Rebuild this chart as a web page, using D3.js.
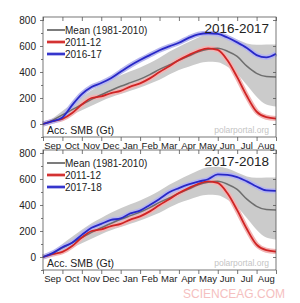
<!DOCTYPE html>
<html>
<head>
<meta charset="utf-8">
<script src="https://cdn.jsdelivr.net/npm/d3@7"></script>
<style>
  body { margin: 0; background: #fff; }
  text { font-family: "Liberation Sans", Arial, sans-serif; }
</style>
</head>
<body>
<div id="chart"></div>
<script>
// month labels, season starts 1 Sep
var months = ["Sep", "Oct", "Nov", "Dec", "Jan", "Feb", "Mar", "Apr", "May", "Jun", "Jul", "Aug"];
// sample positions, in months since 1 Sep
var steps = [0, 0.5, 1, 1.5, 2, 2.5, 3, 3.5, 4, 4.5, 5, 5.5, 6, 6.5, 7, 7.5, 8, 8.5, 9, 9.5, 10, 10.5, 11, 11.5, 12];

// accumulated SMB in Gt
var mean8110 = [0, 30, 70, 110, 150, 190, 225, 258, 290, 318, 345, 380, 420, 455, 490, 522, 555, 575, 582, 560, 520, 445, 390, 365, 362];
var bandHi   = [0, 45, 100, 155, 210, 260, 300, 340, 375, 405, 435, 470, 510, 555, 595, 630, 665, 690, 695, 680, 650, 620, 610, 612, 612];
var bandLo   = [0, 10, 40, 70, 105, 140, 175, 205, 230, 255, 280, 310, 340, 380, 415, 440, 465, 478, 475, 440, 385, 300, 210, 150, 135];
var s2011    = [0, 22, 40, 85, 150, 200, 212, 238, 255, 288, 313, 351, 400, 445, 492, 530, 563, 582, 570, 490, 360, 215, 95, 52, 42];
var s2016    = [0, 22, 50, 145, 230, 285, 315, 352, 402, 450, 492, 530, 567, 597, 625, 662, 690, 698, 693, 665, 628, 585, 530, 512, 540];
var s2017    = [0, 30, 75, 110, 170, 225, 255, 285, 297, 335, 357, 400, 447, 498, 530, 558, 580, 598, 635, 632, 615, 582, 542, 512, 508];

var panels = [
    { title: "2016-2017", label: "2016-17", series: s2016, dy: 0 },
    { title: "2017-2018", label: "2017-18", series: s2017, dy: 133 }
];

var width = 300, height = 303;
var svg = d3.select("#chart").append("svg")
    .attr("width", width)
    .attr("height", height);

var x = d3.scaleLinear().domain([0, 12]).range([43, 276]);
var y = d3.scaleLinear().domain([-100, 823]).range([137, 17]);

var redC = "#d02424", blueC = "#2828c8", meanC = "#6e6e6e";

function pts(vals) {
    return steps.map(function (s, i) { return [s, vals[i]]; });
}

var line = d3.line()
    .x(function (d) { return x(d[0]); })
    .y(function (d) { return y(d[1]); })
    .curve(d3.curveMonotoneX);

var area = d3.area()
    .x(function (d, i) { return x(steps[i]); })
    .y0(function (d, i) { return y(bandLo[i]); })
    .y1(function (d, i) { return y(bandHi[i]); })
    .curve(d3.curveMonotoneX);

panels.forEach(function (p) {
    var g = svg.append("g").attr("transform", "translate(0," + p.dy + ")");

    g.append("path").datum(steps)
        .attr("d", area)
        .attr("fill", "#cbcbcb");

    // lines with light halos
    g.append("path").datum(pts(s2011)).attr("d", line)
        .attr("fill", "none").attr("stroke", "#f2b4b4").attr("stroke-width", 5);
    g.append("path").datum(pts(p.series)).attr("d", line)
        .attr("fill", "none").attr("stroke", "#b6b6ee").attr("stroke-width", 5);
    g.append("path").datum(pts(mean8110)).attr("d", line)
        .attr("fill", "none").attr("stroke", meanC).attr("stroke-width", 1.5);
    g.append("path").datum(pts(s2011)).attr("d", line)
        .attr("fill", "none").attr("stroke", redC).attr("stroke-width", 1.8);
    g.append("path").datum(pts(p.series)).attr("d", line)
        .attr("fill", "none").attr("stroke", blueC).attr("stroke-width", 1.8);

    // frame
    g.append("rect")
        .attr("x", x(0)).attr("y", y(823))
        .attr("width", x(12) - x(0)).attr("height", y(-100) - y(823))
        .attr("fill", "none").attr("stroke", "#555").attr("stroke-width", 0.8);

    // left axis
    var left = g.append("g").attr("transform", "translate(" + x(0) + ",0)")
        .call(d3.axisLeft(y).tickValues([0, 200, 400, 600, 800]).tickSize(3).tickPadding(4));
    g.append("g").attr("transform", "translate(" + x(0) + ",0)")
        .call(d3.axisLeft(y).tickValues([-100, 100, 300, 500, 700]).tickSize(2).tickFormat(""));
    // right axis, inward ticks
    g.append("g").attr("transform", "translate(" + x(12) + ",0)")
        .call(d3.axisLeft(y).tickValues([0, 200, 400, 600, 800]).tickSize(3).tickFormat(""));
    // bottom axis, month boundaries
    var monthTicks = d3.range(0, 13);
    g.append("g").attr("transform", "translate(0," + y(-100) + ")")
        .call(d3.axisBottom(x).tickValues(monthTicks).tickSize(4).tickFormat(""));
    g.append("g").attr("transform", "translate(0," + y(823) + ")")
        .call(d3.axisBottom(x).tickValues(monthTicks).tickSize(4).tickFormat(""));
    g.selectAll(".domain").remove();
    g.selectAll(".tick line").attr("stroke", "#555").attr("stroke-width", 0.8);
    left.selectAll("text").attr("font-size", 10).attr("fill", "#222")
        .style("font-family", "Liberation Sans, Arial, sans-serif");

    g.selectAll(".month").data(months).enter().append("text")
        .attr("x", function (d, i) { return x(i + 0.5); })
        .attr("y", y(-100) + 12)
        .attr("text-anchor", "middle")
        .attr("font-size", 9.5)
        .attr("fill", "#222")
        .text(function (d) { return d; });

    // legend
    var leg = [
        { name: "Mean (1981-2010)", c: meanC, halo: null },
        { name: "2011-12", c: redC, halo: "#f2b4b4" },
        { name: p.label, c: blueC, halo: "#b6b6ee" }
    ];
    leg.forEach(function (l, i) {
        var ly = y(823) + 13 + i * 12;
        if (l.halo) {
            g.append("line").attr("x1", 47).attr("x2", 65).attr("y1", ly).attr("y2", ly)
                .attr("stroke", l.halo).attr("stroke-width", 4);
        }
        g.append("line").attr("x1", 47).attr("x2", 65).attr("y1", ly).attr("y2", ly)
            .attr("stroke", l.c).attr("stroke-width", 1.8);
        g.append("text").attr("x", 65).attr("y", ly + 3.5)
            .attr("font-size", 10).attr("fill", "#222").text(l.name);
    });

    g.append("text").attr("x", 269).attr("y", y(823) + 16)
        .attr("text-anchor", "end").attr("font-size", 13.5).attr("fill", "#222")
        .text(p.title);

    g.append("text").attr("x", 47).attr("y", y(-100) - 3)
        .attr("font-size", 10.5).attr("fill", "#222")
        .text("Acc. SMB (Gt)");

    g.append("text").attr("x", 269).attr("y", y(-100) - 4)
        .attr("text-anchor", "end").attr("font-size", 8.5).attr("fill", "#c4c4c4")
        .text("polarportal.org");
});

svg.append("text").attr("x", 285).attr("y", 298)
    .attr("text-anchor", "end").attr("font-size", 12).attr("fill", "#f5c0c0")
    .text("SCIENCEAG.COM");
</script>
</body>
</html>
